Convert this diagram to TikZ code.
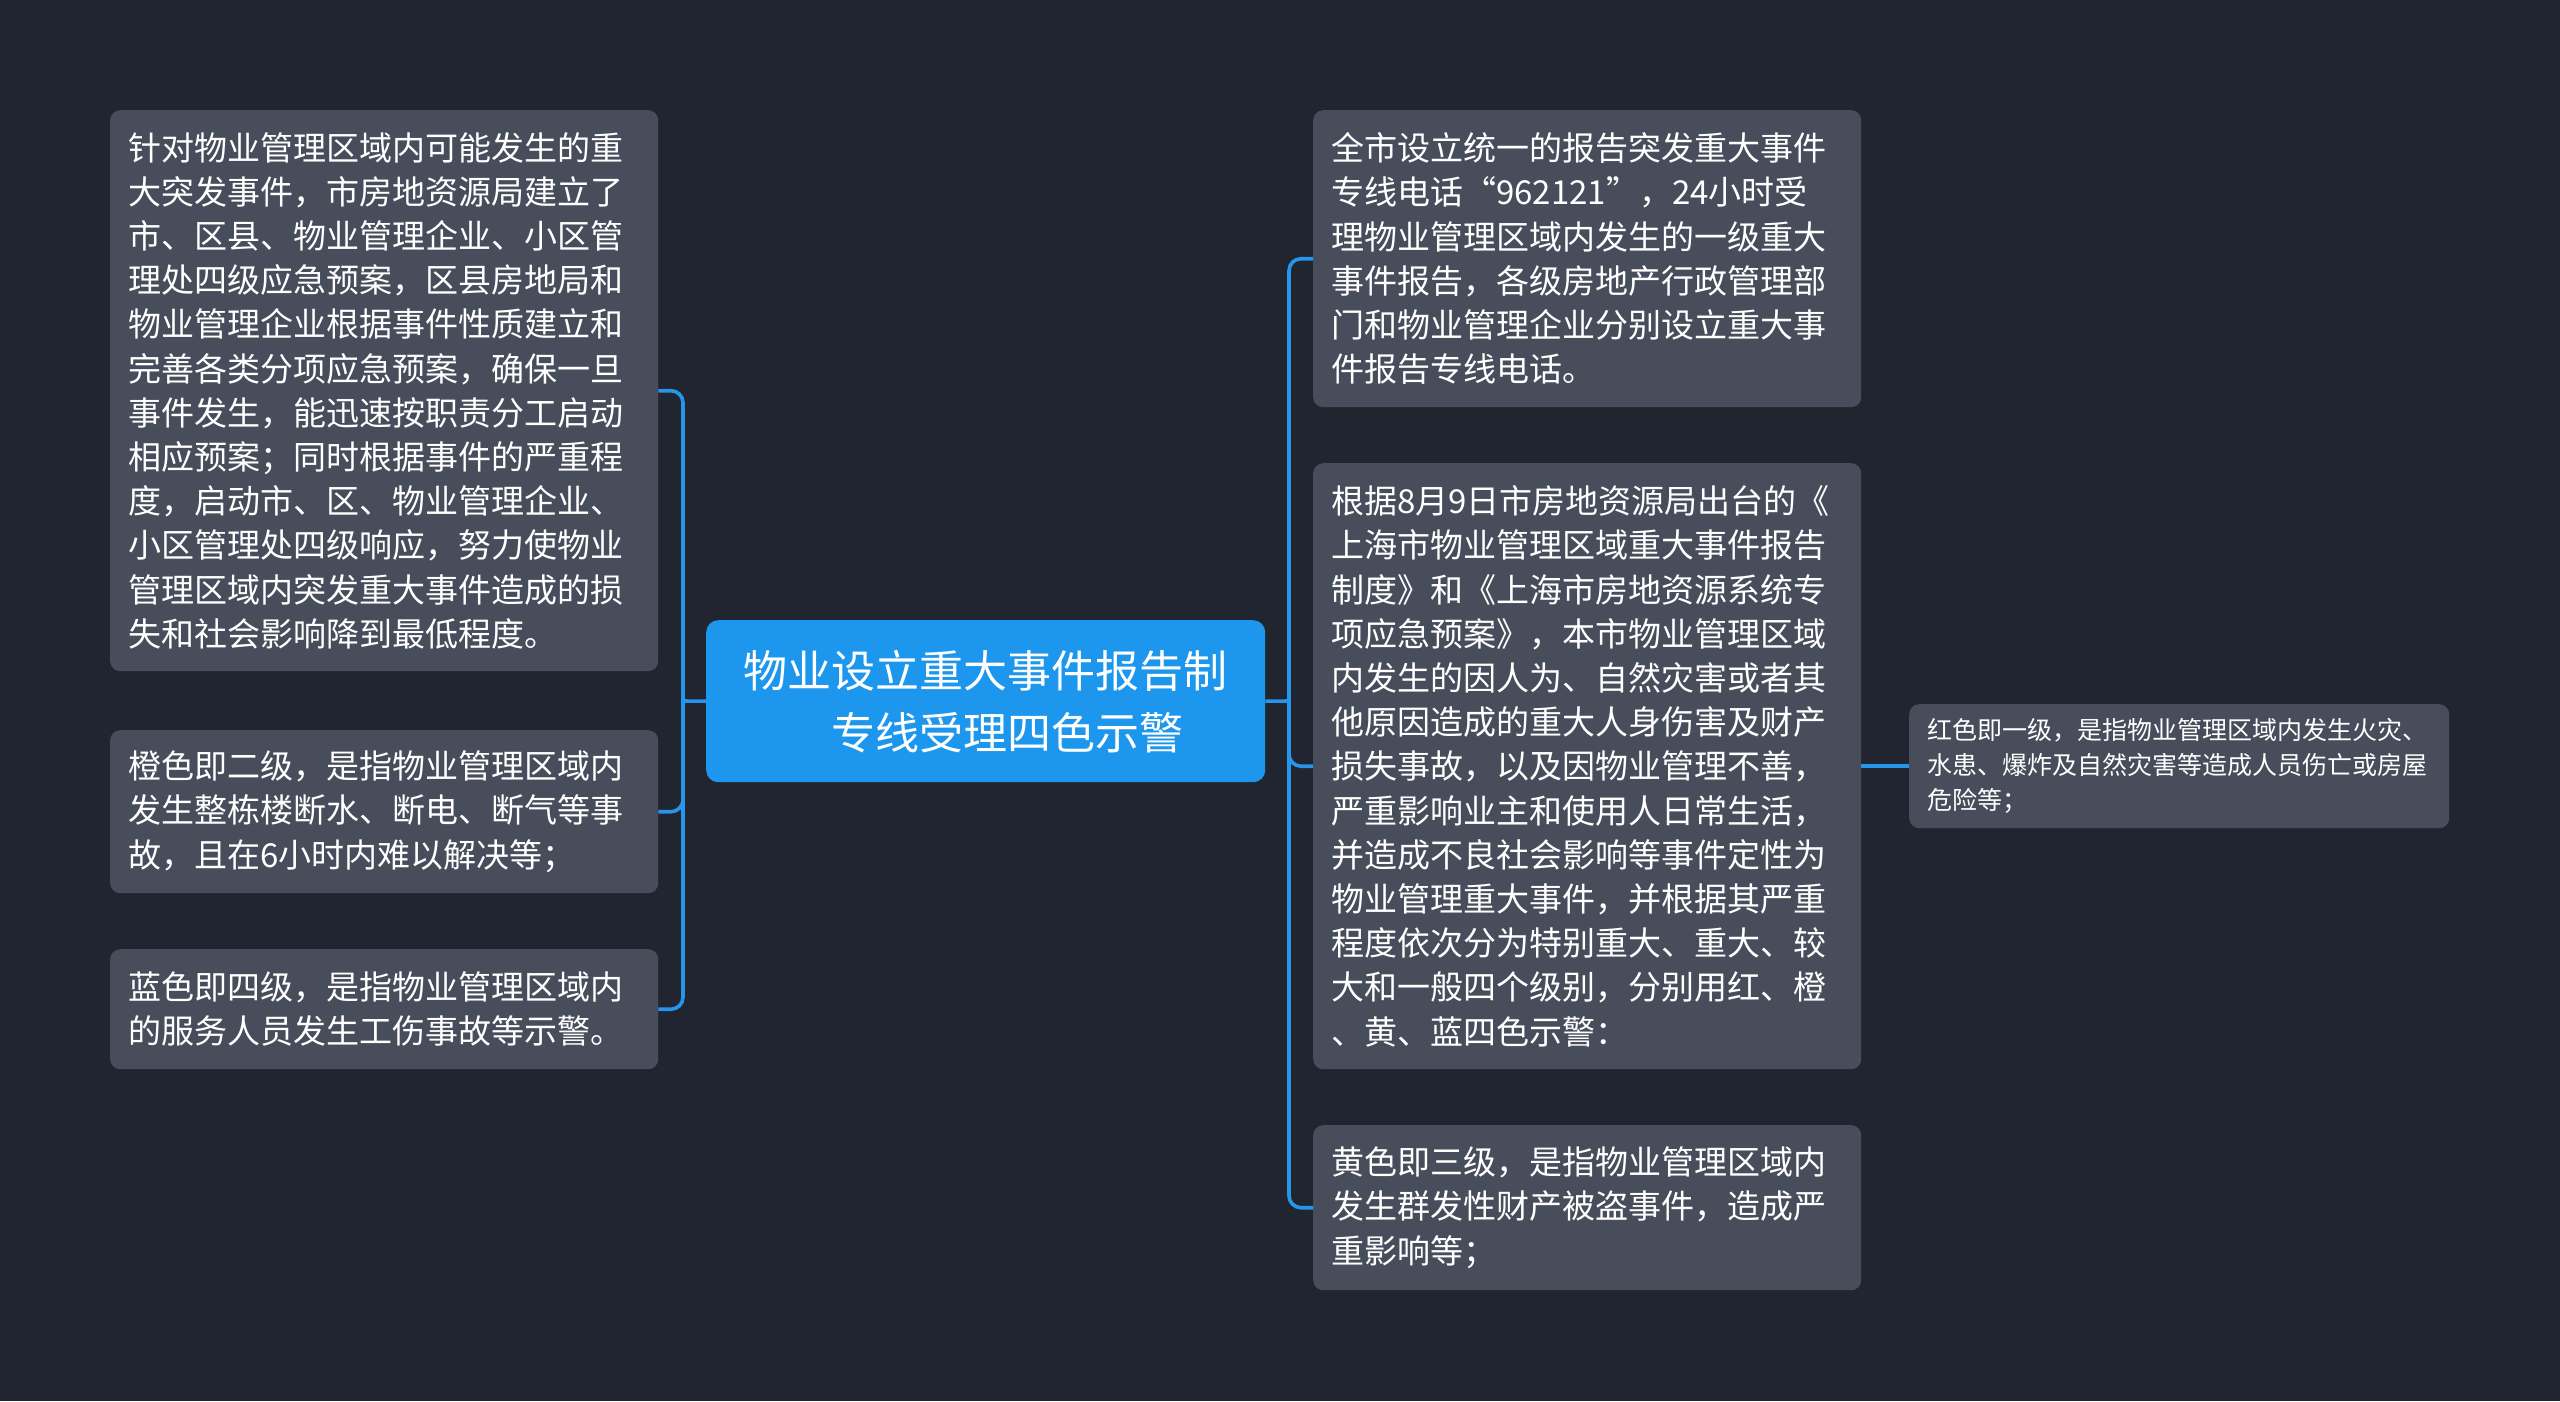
\documentclass[tikz,border=0pt]{standalone}
\usepackage{fontspec}
\setmainfont{Noto Sans CJK SC}
\definecolor{bgc}{HTML}{21252F}
\definecolor{boxc}{HTML}{474D5B}
\definecolor{mainc}{HTML}{1D97EE}
\definecolor{linec}{HTML}{2596EC}
\begin{document}
\begin{tikzpicture}[x=1pt,y=-1pt,
  box/.style={fill=boxc, rounded corners=10pt, anchor=north west, inner xsep=18pt, inner ysep=0pt,
    align=left, text=white, text width=512pt, font=\fontsize{33}{44.2}\selectfont},
  smallbox/.style={fill=boxc, rounded corners=10pt, anchor=north west, inner xsep=18pt, inner ysep=0pt,
    align=left, text=white, text width=504pt, font=\fontsize{25}{35}\selectfont},
  mainbox/.style={fill=mainc, rounded corners=12pt, anchor=north west, inner sep=0pt,
    align=center, text=white, font=\fontsize{44}{62}\selectfont},
  conn/.style={draw=linec, line width=3.6pt, rounded corners=12pt}]
\useasboundingbox[fill=bgc] (0,0) rectangle (2560,1401);

% central node
\node[mainbox, minimum width=559pt, minimum height=162pt] (C) at (706,620)
  {物业设立重大事件报告制\\\hspace*{44pt}专线受理四色示警};

% left nodes
\node[box, minimum height=561pt] (L1) at (110,110)
  {针对物业管理区域内可能发生的重\\大突发事件，市房地资源局建立了\\市、区县、物业管理企业、小区管\\理处四级应急预案，区县房地局和\\物业管理企业根据事件性质建立和\\完善各类分项应急预案，确保一旦\\事件发生，能迅速按职责分工启动\\相应预案；同时根据事件的严重程\\度，启动市、区、物业管理企业、\\小区管理处四级响应，努力使物业\\管理区域内突发重大事件造成的损\\失和社会影响降到最低程度。};
\node[box, minimum height=163pt] (L2) at (110,730)
  {橙色即二级，是指物业管理区域内\\发生整栋楼断水、断电、断气等事\\故，且在6小时内难以解决等；};
\node[box, minimum height=120pt] (L3) at (110,949)
  {蓝色即四级，是指物业管理区域内\\的服务人员发生工伤事故等示警。};

% right nodes
\node[box, minimum height=297pt] (R1) at (1313,110)
  {全市设立统一的报告突发重大事件\\专线电话“962121”，24小时受\\理物业管理区域内发生的一级重大\\事件报告，各级房地产行政管理部\\门和物业管理企业分别设立重大事\\件报告专线电话。};
\node[box, minimum height=606pt] (R2) at (1313,463)
  {根据8月9日市房地资源局出台的《\\上海市物业管理区域重大事件报告\\制度》和《上海市房地资源系统专\\项应急预案》，本市物业管理区域\\内发生的因人为、自然灾害或者其\\他原因造成的重大人身伤害及财产\\损失事故，以及因物业管理不善，\\严重影响业主和使用人日常生活，\\并造成不良社会影响等事件定性为\\物业管理重大事件，并根据其严重\\程度依次分为特别重大、重大、较\\大和一般四个级别，分别用红、橙\\、黄、蓝四色示警：};
\node[box, minimum height=165pt] (R3) at (1313,1125)
  {黄色即三级，是指物业管理区域内\\发生群发性财产被盗事件，造成严\\重影响等；};

% far right node
\node[smallbox, minimum height=124pt] (FR) at (1909,704)
  {红色即一级，是指物业管理区域内发生火灾、\\水患、爆炸及自然灾害等造成人员伤亡或房屋\\危险等；};

% connectors
\coordinate (lb) at (683,701);
\coordinate (rb) at (1289,701);
\draw[conn, rounded corners=0pt] (C.west) -- (lb);
\draw[conn] (lb) |- (L1.east);
\draw[conn] (lb) |- (L2.east);
\draw[conn] (lb) |- (L3.east);
\draw[conn, rounded corners=0pt] (C.east) -- (rb);
\draw[conn] (rb) |- (R1.west);
\draw[conn] (rb) |- (R2.west);
\draw[conn] (rb) |- (R3.west);
\draw[conn, rounded corners=0pt] (R2.east) -- (FR.west);
\end{tikzpicture}
\end{document}
